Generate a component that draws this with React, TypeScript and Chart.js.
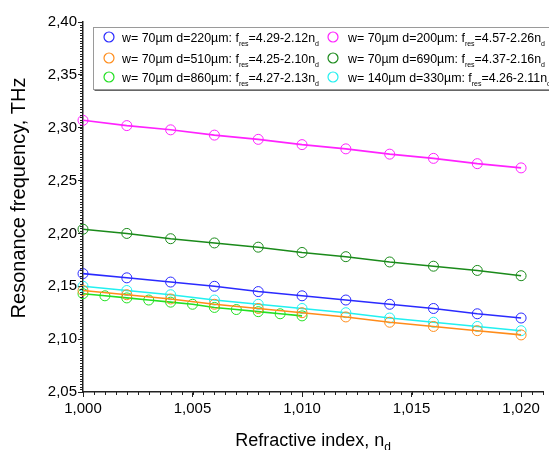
import React, { useEffect, useRef } from "react";
import { Chart, registerables } from "chart.js";

Chart.register(...registerables);

// ---- data ----
const nCoarse = [1.0, 1.002, 1.004, 1.006, 1.008, 1.01, 1.012, 1.014, 1.016, 1.018, 1.02];
const nFine = [1.0, 1.001, 1.002, 1.003, 1.004, 1.005, 1.006, 1.007, 1.008, 1.009, 1.01];

const fW70D220 = [2.162, 2.158, 2.154, 2.150, 2.145, 2.141, 2.137, 2.133, 2.129, 2.124, 2.120];
const fW70D510 = [2.146, 2.142, 2.138, 2.133, 2.129, 2.125, 2.121, 2.116, 2.112, 2.108, 2.104];
const fW70D860 = [2.143, 2.141, 2.139, 2.137, 2.135, 2.133, 2.130, 2.128, 2.126, 2.124, 2.122];
const fW70D200 = [2.307, 2.302, 2.298, 2.293, 2.289, 2.284, 2.280, 2.275, 2.271, 2.266, 2.262];
const fW70D690 = [2.204, 2.200, 2.195, 2.191, 2.187, 2.182, 2.178, 2.173, 2.169, 2.165, 2.160];
const fW140D330 = [2.150, 2.146, 2.142, 2.137, 2.133, 2.129, 2.125, 2.120, 2.116, 2.112, 2.108];

const seriesPrefix = [
  "w= 70µm d=220µm: f",
  "w= 70µm d=510µm: f",
  "w= 70µm d=860µm: f",
  "w= 70µm d=200µm: f",
  "w= 70µm d=690µm: f",
  "w= 140µm d=330µm: f",
];
const seriesFormula = [
  "=4.29-2.12n",
  "=4.25-2.10n",
  "=4.27-2.13n",
  "=4.57-2.26n",
  "=4.37-2.16n",
  "=4.26-2.11n",
];
const seriesColors = ["#2a2aff", "#ff8c1a", "#22e022", "#ff22ff", "#1a8a1a", "#22f0f0"];

const xTicks = [1.0, 1.005, 1.01, 1.015, 1.02];
const yTicks = [2.05, 2.1, 2.15, 2.2, 2.25, 2.3, 2.35, 2.4];
const xMinorStep = 0.0005;
const yMinorStep = 0.0025;

const xTitle = "Refractive index, n";
const xTitleSub = "d";
const yTitle = "Resonance frequency, THz";

const FONT = "'Liberation Sans', Arial, sans-serif";

const seriesX = [nCoarse, nCoarse, nFine, nCoarse, nCoarse, nCoarse];
const seriesY = [fW70D220, fW70D510, fW70D860, fW70D200, fW70D690, fW140D330];

const decorPlugin = {
  id: "decor",
  afterDraw(chart: any) {
    const ctx = chart.ctx as CanvasRenderingContext2D;
    const xs = chart.scales.x;
    const ys = chart.scales.y;
    const area = chart.chartArea;
    ctx.save();
    // minor ticks
    ctx.strokeStyle = "#222";
    ctx.lineWidth = 1;
    ctx.beginPath();
    for (let v = xs.min; v <= xs.max + 1e-9; v += xMinorStep) {
      const px = Math.round(xs.getPixelForValue(v)) + 0.5;
      ctx.moveTo(px, area.bottom);
      ctx.lineTo(px, area.bottom + 3);
    }
    for (let v = ys.min; v <= ys.max + 1e-9; v += yMinorStep) {
      const py = Math.round(ys.getPixelForValue(v)) + 0.5;
      ctx.moveTo(area.left, py);
      ctx.lineTo(area.left - 3, py);
    }
    ctx.stroke();

    // axis titles
    ctx.fillStyle = "#000";
    ctx.font = `18px ${FONT}`;
    ctx.textBaseline = "alphabetic";
    const mainW = ctx.measureText(xTitle).width;
    ctx.font = `12px ${FONT}`;
    const subW = ctx.measureText(xTitleSub).width;
    const cx = (area.left + area.right) / 2;
    const startX = cx - (mainW + subW) / 2;
    ctx.font = `18px ${FONT}`;
    ctx.textAlign = "left";
    ctx.fillText(xTitle, startX, 446);
    ctx.font = `12px ${FONT}`;
    ctx.fillText(xTitleSub, startX + mainW, 451);

    ctx.save();
    ctx.translate(25, 198);
    ctx.rotate(-Math.PI / 2);
    ctx.font = `20px ${FONT}`;
    ctx.textAlign = "center";
    ctx.fillText(yTitle, 0, 0);
    ctx.restore();

    // legend
    const bx = 93.5, by = 27.5, bw = 480, bh = 62;
    ctx.fillStyle = "#fff";
    ctx.fillRect(bx, by, bw, bh);
    ctx.strokeStyle = "#9a9a9a";
    ctx.lineWidth = 1;
    ctx.strokeRect(bx, by, bw, bh);
    ctx.strokeStyle = "#666";
    ctx.beginPath();
    ctx.moveTo(bx + 1, by + bh + 1);
    ctx.lineTo(bx + bw, by + bh + 1);
    ctx.stroke();

    const rows = [37, 58, 77];
    const cols = [
      { mx: 109, tx: 122 },
      { mx: 333, tx: 348 },
    ];
    for (let i = 0; i < seriesPrefix.length; i++) {
      const col = cols[Math.floor(i / 3)];
      const ry = rows[i % 3];
      ctx.strokeStyle = seriesColors[i];
      ctx.lineWidth = 1.2;
      ctx.beginPath();
      ctx.arc(col.mx, ry, 5, 0, Math.PI * 2);
      ctx.stroke();
      ctx.fillStyle = "#000";
      ctx.textAlign = "left";
      ctx.textBaseline = "alphabetic";
      let x = col.tx;
      const base = ry + 4.5;
      ctx.font = `12.4px ${FONT}`;
      ctx.fillText(seriesPrefix[i], x, base);
      x += ctx.measureText(seriesPrefix[i]).width;
      ctx.font = `7px ${FONT}`;
      ctx.fillText("res", x, base + 4);
      x += ctx.measureText("res").width;
      ctx.font = `12.4px ${FONT}`;
      ctx.fillText(seriesFormula[i], x, base);
      x += ctx.measureText(seriesFormula[i]).width;
      ctx.font = `7px ${FONT}`;
      ctx.fillText("d", x, base + 4);
    }
    ctx.restore();
  },
};

export default function App() {
  const ref = useRef<HTMLCanvasElement | null>(null);
  useEffect(() => {
    document.body.style.margin = "0";
    if (!ref.current) return;
    const datasets = seriesY.map((ys, i) => ({
      label: seriesPrefix[i] + "res" + seriesFormula[i] + "d",
      data: ys.map((y, j) => ({ x: seriesX[i][j], y })),
      showLine: true,
      borderColor: seriesColors[i],
      backgroundColor: "rgba(0,0,0,0)",
      borderWidth: 1.6,
      pointRadius: 5,
      pointBorderWidth: 1,
      pointBorderColor: seriesColors[i],
      pointBackgroundColor: "rgba(0,0,0,0)",
      clip: false as any,
    }));
    const chart = new Chart(ref.current, {
      type: "scatter",
      data: { datasets },
      plugins: [decorPlugin],
      options: {
        animation: false,
        responsive: false,
        layout: { padding: { top: 22, right: 4, left: 0, bottom: 0 } },
        plugins: { legend: { display: false }, tooltip: { enabled: false } },
        scales: {
          x: {
            type: "linear",
            min: 1.0,
            max: 1.021,
            afterBuildTicks: (s: any) => {
              s.ticks = xTicks.map((v) => ({ value: v }));
            },
            afterFit: (s: any) => {
              s.height = 58;
            },
            grid: { drawOnChartArea: false, drawTicks: true, tickLength: 5, color: "#222", tickWidth: 1 },
            border: { display: true, color: "#222", width: 1.5 },
            ticks: {
              color: "#000",
              font: { family: FONT, size: 15 },
              padding: 3,
              maxRotation: 0,
              callback: (v: any) => Number(v).toFixed(3).replace(".", ","),
            },
          },
          y: {
            type: "linear",
            min: 2.05,
            max: 2.4,
            afterBuildTicks: (s: any) => {
              s.ticks = yTicks.map((v) => ({ value: v }));
            },
            afterFit: (s: any) => {
              s.width = 83;
            },
            grid: { drawOnChartArea: false, drawTicks: true, tickLength: 5, color: "#222", tickWidth: 1 },
            border: { display: true, color: "#222", width: 1.5 },
            ticks: {
              color: "#000",
              font: { family: FONT, size: 15 },
              padding: 1,
              callback: (v: any) => Number(v).toFixed(2).replace(".", ","),
            },
          },
        },
      },
    });
    return () => chart.destroy();
  }, []);
  return (
    <div style={{ width: 549, height: 450 }}>
      <canvas ref={ref} width={549} height={450} />
    </div>
  );
}
